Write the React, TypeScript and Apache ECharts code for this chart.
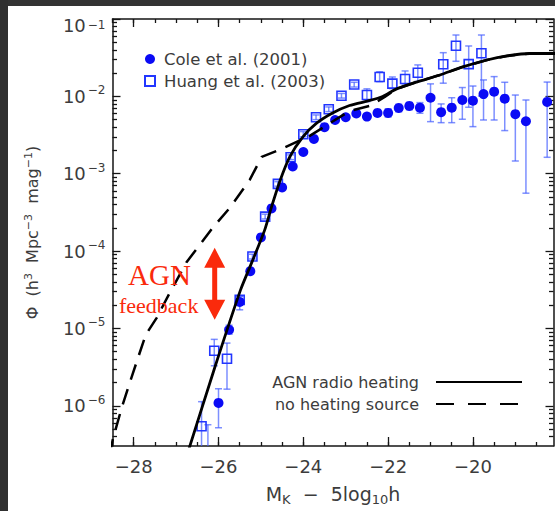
import React, { useEffect, useRef } from 'react';
import * as echarts from 'echarts';

// ---------------- data ----------------
// Cole et al. (2001): M_K - 5log10 h, Phi (h^3 Mpc^-3 mag^-1), error bounds
const coleMag = [-26.0, -25.75, -25.5, -25.25, -25.0, -24.75, -24.5, -24.25, -24.0, -23.75, -23.5, -23.25, -23.0, -22.75, -22.5, -22.25, -22.0, -21.75, -21.5, -21.25, -21.0, -20.75, -20.5, -20.25, -20.0, -19.75, -19.5, -19.25, -19.0, -18.75, -18.25];
const colePhi = [1.09e-6, 9.6e-6, 2.2e-5, 5.5e-5, 1.5e-4, 3.56e-4, 6.65e-4, 1.24e-3, 1.91e-3, 2.82e-3, 4.0e-3, 4.95e-3, 5.37e-3, 6.01e-3, 5.47e-3, 6.11e-3, 6.11e-3, 7.08e-3, 7.52e-3, 7.14e-3, 9.6e-3, 6.24e-3, 7.14e-3, 8.97e-3, 8.79e-3, 1.07e-2, 1.15e-2, 9.33e-3, 5.89e-3, 4.76e-3, 8.47e-3];
const coleLo = [5.2e-7, 8.4e-6, 1.74e-5, null, null, null, null, null, null, null, null, null, null, null, 5.0e-3, 5.6e-3, 5.4e-3, 6.3e-3, 6.7e-3, 6.05e-3, 4.71e-3, 4.57e-3, 4.57e-3, 5.06e-3, 4.06e-3, 4.95e-3, 4.95e-3, 3.61e-3, 1.46e-3, 5.6e-4, 1.63e-3];
const coleHi = [1.66e-6, 1.1e-5, 2.64e-5, null, null, null, null, null, null, null, null, null, null, null, 6.0e-3, 6.6e-3, 6.9e-3, 7.9e-3, 8.3e-3, 8.3e-3, 1.45e-2, 7.98e-3, 9.6e-3, 1.3e-2, 1.36e-2, 1.63e-2, 1.8e-2, 1.52e-2, 1.04e-2, 8.97e-3, 1.53e-2];

// Huang et al. (2003)
const huangMag = [-26.4, -26.25, -26.1, -25.8, -25.5, -25.2, -24.9, -24.6, -24.3, -24.0, -23.7, -23.4, -23.1, -22.8, -22.5, -22.2, -21.9, -21.6, -21.3, -20.7, -20.4, -20.1, -19.8];
const huangPhi = [5.43e-7, 2.0e-7, 5.14e-6, 4.05e-6, 2.34e-5, 8.49e-5, 2.79e-4, 7.38e-4, 1.63e-3, 3.24e-3, 5.37e-3, 6.81e-3, 1.02e-2, 1.42e-2, 1.04e-2, 1.78e-2, 1.46e-2, 1.68e-2, 2.02e-2, 2.6e-2, 4.52e-2, 2.61e-2, 3.61e-2];
const huangLo = [1e-7, 5e-8, 3.29e-6, 1.64e-6, 2.1e-5, 7.9e-5, 2.6e-4, 6.9e-4, 1.52e-3, 3.0e-3, 5.0e-3, 6.35e-3, 9.5e-3, 1.32e-2, 8.55e-3, 1.55e-2, 1.26e-2, 1.45e-2, 1.56e-2, 1.48e-2, 2.84e-2, 7.23e-3, 1.01e-2];
const huangHi = [1.13e-6, 5.69e-7, 7.22e-6, 6.46e-6, 2.6e-5, 9.1e-5, 3.0e-4, 7.9e-4, 1.75e-3, 3.5e-3, 5.75e-3, 7.3e-3, 1.09e-2, 1.52e-2, 1.25e-2, 2.08e-2, 1.78e-2, 2.13e-2, 2.55e-2, 3.67e-2, 6.21e-2, 4.48e-2, 6.21e-2];

// Model: AGN radio heating (solid)
const agnMag = [-26.785, -26.09, -25.48, -25.19, -24.91, -24.75, -24.56, -24.32, -24.01, -23.68, -23.31, -22.91, -22.43, -22.13, -21.8, -21.33, -20.78, -20.24, -19.67, -19.2, -18.66, -18.12, -18.0];
const agnPhi = [1.95e-7, 3.1e-6, 3.15e-5, 7.69e-5, 1.88e-4, 3.72e-4, 7.83e-4, 1.65e-3, 2.99e-3, 4.53e-3, 6.1e-3, 7.62e-3, 8.85e-3, 9.97e-3, 1.25e-2, 1.53e-2, 1.89e-2, 2.4e-2, 2.95e-2, 3.33e-2, 3.58e-2, 3.58e-2, 3.58e-2];

// Model: no heating source (dashed)
const noHeatMag = [-28.566, -28.495, -28.283, -28.047, -27.717, -27.458, -27.151, -26.75, -26.443, -26.137, -25.736, -25.264, -24.981, -24.486, -23.849, -23.212, -22.906, -22.434, -22.08, -21.8, -21.33, -20.78, -20.24, -19.67, -19.2, -18.66, -18.12, -18.0];
const noHeatPhi = [2.33e-7, 3.64e-7, 9.42e-7, 2.37e-6, 8.26e-6, 1.37e-5, 2.88e-5, 7.24e-5, 1.2e-4, 2.0e-4, 3.61e-4, 8.32e-4, 1.65e-3, 2.12e-3, 3.08e-3, 5.11e-3, 6.47e-3, 7.52e-3, 9.82e-3, 1.25e-2, 1.53e-2, 1.89e-2, 2.4e-2, 2.95e-2, 3.33e-2, 3.58e-2, 3.58e-2, 3.58e-2];

// AGN feedback arrow (magnitude, top phi, bottom phi)
const arrowMag = [-26.09];
const arrowTop = [1.1e-4];
const arrowBottom = [1.29e-5];

// Axis ticks
const xMajorTicks = [-28, -26, -24, -22, -20];
const yMajorExp = [-6, -5, -4, -3, -2, -1];
const X_MIN = -28.5;
const X_MAX = -18.1;
const Y_MIN = -6.52;
const Y_MAX = -1;

// ---------------- styling ----------------
const FONT = "'DejaVu Sans', sans-serif";
const SERIF = "'Liberation Serif', 'DejaVu Serif', serif";
const TXT = '#3c3c3c';
const AXIS = '#151515';
const BLUE = '#0a0af5';
const SQ_BLUE = '#2236ff';
const ERR = 'rgba(70, 95, 255, 0.7)';
const RED = '#fa2a0c';

const NAME_COLE = 'Cole et al. (2001)';
const NAME_HUANG = 'Huang et al. (2003)';
const NAME_AGN = 'AGN radio heating';
const NAME_NOH = 'no heating source';

const lg = (v: number) => Math.log10(v);

function buildOption() {
  const xMinor: number[] = [];
  for (let v = -28.5; v <= -18.1; v += 0.5) xMinor.push(Math.round(v * 10) / 10);
  const yMinor: number[] = [];
  for (let n = -7; n <= -2; n++) {
    for (let k = 2; k <= 9; k++) {
      const v = n + Math.log10(k);
      if (v > Y_MIN && v < Y_MAX) yMinor.push(v);
    }
  }

  const coleErr = coleMag
    .map((m, i) => (coleLo[i] == null ? null : [m, lg(coleLo[i] as number), lg(coleHi[i] as number)]))
    .filter((d) => d != null);
  const huangErr = huangMag.map((m, i) => [m, lg(huangLo[i]), lg(huangHi[i])]);

  const errRender = (params: any, api: any) => {
    const x = api.value(0);
    const p1 = api.coord([x, api.value(2)]);
    const p2 = api.coord([x, api.value(1)]);
    const w = 3.5;
    const st = { stroke: ERR, lineWidth: 1.5 };
    return {
      type: 'group',
      children: [
        { type: 'line', shape: { x1: p1[0], y1: p1[1], x2: p2[0], y2: p2[1] }, style: st },
        { type: 'line', shape: { x1: p1[0] - w, y1: p1[1], x2: p1[0] + w, y2: p1[1] }, style: st },
        { type: 'line', shape: { x1: p2[0] - w, y1: p2[1], x2: p2[0] + w, y2: p2[1] }, style: st },
      ],
    };
  };

  const xBase = {
    type: 'value',
    min: X_MIN,
    max: X_MAX,
    splitLine: { show: false },
  };
  const yBase = {
    type: 'value',
    min: Y_MIN,
    max: Y_MAX,
    splitLine: { show: false },
  };
  const axisLine = { show: true, onZero: false, lineStyle: { color: AXIS, width: 1.5 } };
  const noLine = { show: false };
  const majorTick = (len: number, vals: number[]) => ({
    show: true,
    inside: true,
    length: len,
    customValues: vals,
    lineStyle: { color: AXIS, width: 1.3 },
  });

  return {
    animation: false,
    backgroundColor: '#ffffff',
    grid: { left: 112.5, top: 19, width: 441, height: 427, containLabel: false },
    xAxis: [
      {
        ...xBase,
        position: 'bottom',
        axisLine,
        axisTick: majorTick(9, xMajorTicks),
        axisLabel: {
          show: true,
          customValues: xMajorTicks,
          margin: 11,
          fontSize: 18,
          fontFamily: FONT,
          color: TXT,
          formatter: (v: number) => (v < 0 ? '\u2212' : '') + Math.abs(Math.round(v)),
        },
        name: 'M{sub|K}  \u2212  5log{sub|10}h',
        nameLocation: 'middle',
        nameGap: 36,
        nameTextStyle: {
          fontSize: 19,
          fontFamily: FONT,
          color: TXT,
          lineHeight: 24,
          rich: {
            sub: { fontSize: 13, fontFamily: FONT, color: TXT, verticalAlign: 'bottom', lineHeight: 16 },
          },
        },
      },
      { ...xBase, position: 'bottom', axisLine: noLine, axisTick: majorTick(4, xMinor), axisLabel: { show: false } },
      { ...xBase, position: 'top', axisLine, axisTick: majorTick(8, xMajorTicks), axisLabel: { show: false } },
      { ...xBase, position: 'top', axisLine: noLine, axisTick: majorTick(4, xMinor), axisLabel: { show: false } },
    ],
    yAxis: [
      {
        ...yBase,
        position: 'left',
        axisLine,
        axisTick: majorTick(8, yMajorExp),
        axisLabel: {
          show: true,
          customValues: yMajorExp,
          margin: 7,
          formatter: (v: number) => {
            const e = Math.round(-v);
            return e === 1 ? `{bt|10}{st|\u2212${e}}` : `{b|10}{s|\u2212${e}}`;
          },
          rich: {
            b: { fontSize: 18, fontFamily: FONT, color: TXT, lineHeight: 24 },
            s: { fontSize: 12, fontFamily: FONT, color: TXT, lineHeight: 14, verticalAlign: 'top', padding: [0, 0, 0, 2] },
            bt: { fontSize: 18, fontFamily: FONT, color: TXT, lineHeight: 24, padding: [12, 0, 0, 0] },
            st: { fontSize: 12, fontFamily: FONT, color: TXT, lineHeight: 14, verticalAlign: 'top', padding: [12, 0, 0, 2] },
          },
        },
        name: '\u03a6  (h{sup|3}  Mpc{sup|\u22123}  mag{sup|\u22121})',
        nameLocation: 'middle',
        nameGap: 70,
        nameRotate: 90,
        nameTextStyle: {
          fontSize: 16,
          fontFamily: FONT,
          color: TXT,
          lineHeight: 20,
          rich: {
            sup: { fontSize: 11, fontFamily: FONT, color: TXT, verticalAlign: 'top', lineHeight: 13 },
          },
        },
      },
      { ...yBase, position: 'left', axisLine: noLine, axisTick: majorTick(4.5, yMinor), axisLabel: { show: false } },
      { ...yBase, position: 'right', axisLine, axisTick: majorTick(8, yMajorExp), axisLabel: { show: false } },
      { ...yBase, position: 'right', axisLine: noLine, axisTick: majorTick(4.5, yMinor), axisLabel: { show: false } },
    ],
    legend: [
      {
        data: [NAME_COLE, NAME_HUANG],
        orient: 'vertical',
        left: 139,
        top: 44,
        itemWidth: 10,
        itemHeight: 10,
        itemGap: 2,
        selectedMode: false,
        textStyle: { fontSize: 16.5, fontFamily: FONT, color: TXT, lineHeight: 20, padding: [0, 0, 0, 4] },
      },
      {
        data: [
          { name: NAME_AGN },
          { name: NAME_NOH, lineStyle: { type: [18, 14] } },
        ],
        orient: 'vertical',
        align: 'right',
        right: 27,
        top: 367,
        itemWidth: 86,
        itemHeight: 10,
        itemGap: 2,
        selectedMode: false,
        itemStyle: { opacity: 0 },
        textStyle: { fontSize: 16, fontFamily: FONT, color: TXT, lineHeight: 20, padding: [0, 12, 0, 0] },
      },
    ],
    graphic: [
      { type: 'rect', shape: { x: 0, y: 0, width: 555, height: 6 }, style: { fill: '#333333' }, z: 100 },
      { type: 'rect', shape: { x: 0, y: 0, width: 8, height: 511 }, style: { fill: '#303030' }, z: 100 },
      {
        type: 'text',
        x: 128,
        y: 275,
        style: { text: 'AGN', fontSize: 29, fontFamily: SERIF, fill: RED, verticalAlign: 'middle', align: 'left' },
        z: 50,
      },
      {
        type: 'text',
        x: 119,
        y: 305.5,
        style: { text: 'feedback', fontSize: 22, fontFamily: SERIF, fill: RED, verticalAlign: 'middle', align: 'left' },
        z: 50,
      },
    ],
    series: [
      {
        type: 'custom',
        name: 'coleErr',
        clip: true,
        silent: true,
        renderItem: errRender,
        encode: { x: 0, y: [1, 2] },
        data: coleErr,
        z: 2,
      },
      {
        type: 'custom',
        name: 'huangErr',
        clip: true,
        silent: true,
        renderItem: errRender,
        encode: { x: 0, y: [1, 2] },
        data: huangErr,
        z: 2,
      },
      {
        type: 'scatter',
        name: NAME_HUANG,
        symbol: 'rect',
        symbolSize: 9,
        clip: true,
        silent: true,
        itemStyle: { color: 'transparent', borderColor: SQ_BLUE, borderWidth: 1.6, opacity: 1 },
        data: huangMag.map((m, i) => [m, lg(huangPhi[i])]),
        z: 3,
      },
      {
        type: 'scatter',
        name: NAME_COLE,
        symbol: 'circle',
        symbolSize: 10,
        clip: true,
        silent: true,
        itemStyle: { color: BLUE, opacity: 1 },
        data: coleMag.map((m, i) => [m, lg(colePhi[i])]),
        z: 3,
      },
      {
        type: 'line',
        name: NAME_NOH,
        showSymbol: false,
        symbol: 'none',
        clip: true,
        silent: true,
        lineStyle: { color: '#000', width: 2.5, type: [16, 10] },
        itemStyle: { color: '#000' },
        data: noHeatMag.map((m, i) => [m, lg(noHeatPhi[i])]),
        z: 4,
      },
      {
        type: 'line',
        name: NAME_AGN,
        showSymbol: false,
        symbol: 'none',
        clip: true,
        silent: true,
        smooth: 0.2,
        lineStyle: { color: '#000', width: 2.8, type: 'solid' },
        itemStyle: { color: '#000' },
        data: agnMag.map((m, i) => [m, lg(agnPhi[i])]),
        z: 4,
      },
      {
        type: 'custom',
        name: 'arrow',
        silent: true,
        encode: { x: 0, y: [1, 2] },
        data: arrowMag.map((m, i) => [m, lg(arrowTop[i]), lg(arrowBottom[i])]),
        renderItem: (params: any, api: any) => {
          const t = api.coord([api.value(0), api.value(1)]);
          const b = api.coord([api.value(0), api.value(2)]);
          const x = t[0];
          const yt = t[1];
          const yb = b[1];
          const hw = 10.5;
          const hh = 20;
          const sw = 2.5;
          return {
            type: 'polygon',
            shape: {
              points: [
                [x, yt],
                [x + hw, yt + hh],
                [x + sw, yt + hh],
                [x + sw, yb - hh],
                [x + hw, yb - hh],
                [x, yb],
                [x - hw, yb - hh],
                [x - sw, yb - hh],
                [x - sw, yt + hh],
                [x - hw, yt + hh],
              ],
            },
            style: { fill: RED },
          };
        },
        z: 5,
      },
    ],
  };
}

export default function App() {
  const ref = useRef<HTMLDivElement>(null);
  useEffect(() => {
    if (!ref.current) return;
    const chart = echarts.init(ref.current, null, { renderer: 'svg' });
    chart.setOption(buildOption() as any);
    return () => {
      chart.dispose();
    };
  }, []);
  return (
    <div style={{ position: 'fixed', left: 0, top: 0, width: 555, height: 511, background: '#fff' }}>
      <div ref={ref} style={{ width: 555, height: 511 }} />
    </div>
  );
}
